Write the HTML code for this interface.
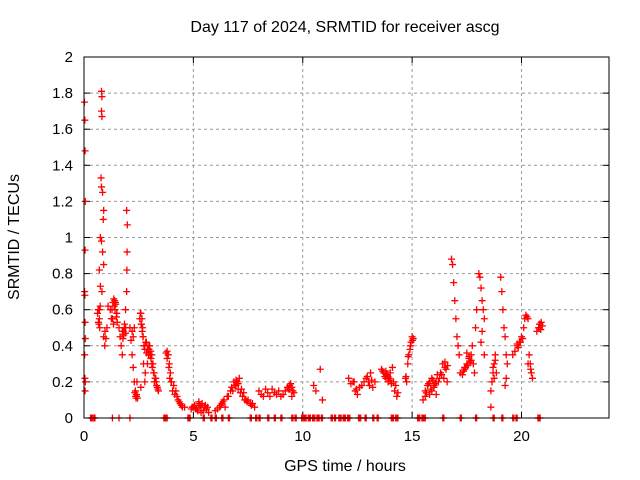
<!DOCTYPE html>
<html><head><meta charset="utf-8"><style>
body{margin:0;background:#fff}
svg{display:block;font-family:"Liberation Sans",sans-serif}
</style></head><body>
<svg id="chart" width="640" height="480">
<text x="345" y="32" text-anchor="middle" font-size="16">Day 117 of 2024, SRMTID for receiver ascg</text>
<text x="345" y="471" text-anchor="middle" font-size="16">GPS time / hours</text>
<text transform="translate(19,237) rotate(-90)" text-anchor="middle" font-size="16">SRMTID / TECUs</text>
<g id="grid"></g><g id="ticks"></g><g id="marks"></g>
<rect x="84" y="57" width="525" height="361" fill="none" stroke="#000" stroke-width="1"/>
</svg>
<script>
const xTicks=[0,5,10,15,20];
const yTicks=[0,0.2,0.4,0.6,0.8,1,1.2,1.4,1.6,1.8,2];
const yTickLabels=["0","0.2","0.4","0.6","0.8","1","1.2","1.4","1.6","1.8","2"];
const hours=[0.02,0.04,0.05,0.06,0.05,0.03,0.04,0.05,0.06,0.03,0.04,0.06,0.05,
0.8,0.82,0.8,0.82,0.78,0.8,0.85,0.9,0.88,0.75,0.8,0.85,0.9,0.7,0.75,0.82,0.65,0.7,0.68,0.72,0.9,0.95,
1.1,1.2,1.3,1.35,1.4,1.45,1.5,
1.6,1.65,1.7,1.75,1.8,1.85,1.9,1.95,1.98,1.97,1.96,1.95,1.9,
2.1,2.15,2.2,2.25,2.3,2.35,2.4,2.45,2.3,2.2,2.25,
2.6,2.65,2.62,2.7,2.75,2.72,2.8,2.78,2.6,2.85,2.9,2.95,
3.0,3.05,3.1,3.15,3.2,3.25,3.3,3.35,3.4,
3.8,3.85,3.9,3.95,4.0,4.1,4.2,4.3,4.4,4.5,
5.0,5.1,5.2,5.3,5.4,5.5,5.6,5.7,
6.0,6.2,6.3,6.4,
6.6,6.8,6.9,7.0,7.1,7.2,7.3,7.4,
7.5,7.7,7.8,
8.0,8.2,8.4,8.6,8.8,9.0,9.2,9.4,9.5,9.6,
10.5,10.6,10.8,10.9,
12.1,12.3,12.4,12.5,12.7,12.9,13.0,13.1,13.2,
13.6,13.7,13.8,13.9,14.0,14.1,14.15,14.2,14.3,
14.7,14.75,14.8,14.85,14.9,14.95,15.0,15.05,
15.5,15.6,15.7,15.8,15.9,16.0,16.1,16.2,16.3,16.4,16.5,16.45,16.6,
16.8,16.85,16.9,16.95,17.0,17.05,17.1,17.15,17.2,
17.3,17.4,17.5,17.6,17.7,17.8,17.85,17.75,17.9,17.95,
18.05,18.1,18.15,18.2,18.25,18.3,18.2,18.15,18.3,
18.6,18.65,18.7,18.75,18.8,18.85,18.6,
19.05,19.1,19.15,19.2,19.25,19.3,19.35,19.3,19.25,
19.6,19.7,19.8,19.9,20.0,20.1,20.15,20.2,20.3,
20.35,20.4,20.45,20.5,
20.7,20.8,20.85,20.9,
0.62,0.66,0.7,0.74,0.96,1.0,1.05,1.25,1.28,1.32,1.36,1.38,1.42,1.44,1.48,1.52,
1.75,1.78,1.82,1.86,1.9,2.32,2.36,2.38,2.4,2.42,
2.55,2.58,2.62,2.66,2.68,2.7,2.74,2.78,2.82,2.86,2.9,2.93,2.97,3.02,3.06,3.1,3.12,3.18,3.22,3.28,3.32,3.38,
3.75,3.8,3.88,3.92,3.98,4.05,4.15,4.25,4.35,4.45,4.6,
4.9,4.95,5.05,5.15,5.25,5.35,5.45,5.55,5.65,5.25,5.35,5.15,
6.1,6.25,6.35,6.45,6.55,6.7,6.75,6.85,6.95,7.05,7.15,7.25,6.95,7.05,7.35,7.45,7.6,7.65,
8.1,8.3,8.5,8.7,8.9,9.1,9.3,9.35,9.45,9.55,9.5,9.4,
12.2,12.35,12.45,12.6,12.8,12.95,13.05,13.15,13.3,13.65,13.75,13.85,13.95,14.05,14.25,14.35,13.8,13.9,14.0,
14.72,14.82,14.92,15.02,15.6,15.65,15.75,15.85,15.95,16.05,16.15,16.25,15.8,15.9,16.0,16.1,16.35,16.5,16.55,16.62,
17.35,17.45,17.55,17.65,17.5,17.6,17.7,17.4,18.7,18.75,18.8,19.8,19.85,19.95,20.05,20.25,20.3,20.42,20.78,20.82,20.88,20.95,
0.3,0.4,0.5,1.3,1.6,2.1,3.7,3.8,4.8,5.5,5.8,6.0,6.3,6.6,7.6,7.9,8.0,8.4,8.7,9.0,9.5,9.7,10.0,10.1,10.3,10.5,10.7,10.9,11.3,11.5,11.7,11.9,12.1,12.6,12.9,13.2,13.4,14.1,14.3,15.3,15.5,16.4,17.2,17.9,18.7,19.1,19.6,19.8,20.8,
0.35,0.45,3.65,3.75,4.85,4.75,5.45,5.85,6.05,6.35,6.65,7.65,7.85,8.05,8.45,8.75,9.05,9.55,9.65,9.95,10.05,10.15,10.25,10.35,10.45,10.55,10.65,10.75,10.85,11.35,11.45,11.65,11.75,11.85,11.95,12.05,12.15,12.55,12.65,12.85,13.25,13.45,14.05,14.15,14.25,14.35,15.25,15.35,15.45,15.55,15.6,16.45,17.25,17.95,18.75,19.15,19.65,19.75,20.75,20.85];
const tecu=[1.75,1.65,1.48,1.2,0.93,0.7,0.68,0.53,0.44,0.35,0.22,0.2,0.15,
1.81,1.78,1.7,1.67,1.33,1.28,1.25,1.15,1.1,1.0,0.98,0.92,0.85,0.82,0.73,0.7,0.6,0.55,0.52,0.5,0.45,0.4,
0.62,0.6,0.55,0.52,0.65,0.63,0.58,
0.5,0.45,0.4,0.35,0.48,0.52,0.5,1.15,1.07,0.92,0.82,0.7,0.6,
0.5,0.43,0.35,0.28,0.2,0.15,0.12,0.11,0.5,0.48,0.45,
0.58,0.55,0.52,0.45,0.4,0.3,0.25,0.2,0.17,0.42,0.38,0.35,
0.4,0.37,0.35,0.3,0.25,0.22,0.2,0.17,0.15,
0.37,0.35,0.3,0.25,0.2,0.18,0.15,0.1,0.08,0.06,
0.06,0.05,0.04,0.07,0.08,0.06,0.05,0.03,
0.04,0.06,0.08,0.1,
0.12,0.15,0.18,0.2,0.22,0.16,0.14,0.1,
0.1,0.08,0.06,
0.15,0.12,0.14,0.16,0.13,0.12,0.15,0.18,0.17,0.14,
0.18,0.15,0.27,0.1,
0.22,0.2,0.15,0.13,0.18,0.22,0.2,0.25,0.17,
0.27,0.25,0.22,0.2,0.25,0.28,0.2,0.15,0.12,
0.22,0.2,0.3,0.35,0.38,0.42,0.45,0.44,
0.1,0.15,0.18,0.2,0.22,0.17,0.13,0.2,0.25,0.3,0.28,0.22,0.2,
0.88,0.85,0.75,0.65,0.55,0.45,0.4,0.35,0.25,
0.24,0.27,0.3,0.33,0.35,0.3,0.25,0.4,0.5,0.6,
0.8,0.78,0.72,0.65,0.6,0.55,0.48,0.42,0.35,
0.15,0.2,0.25,0.3,0.35,0.25,0.06,
0.78,0.7,0.6,0.5,0.45,0.35,0.3,0.22,0.18,
0.35,0.37,0.4,0.42,0.45,0.5,0.55,0.57,0.55,
0.35,0.3,0.25,0.22,
0.48,0.5,0.52,0.53,
0.58,0.53,0.6,0.62,0.48,0.44,0.5,0.55,0.6,0.64,0.66,0.62,0.6,0.64,0.56,0.53,
0.48,0.44,0.46,0.5,0.47,0.14,0.12,0.11,0.13,0.2,
0.55,0.58,0.52,0.48,0.5,0.45,0.4,0.38,0.42,0.36,0.3,0.4,0.38,0.35,0.33,0.3,0.28,0.25,0.2,0.22,0.18,0.16,
0.36,0.33,0.28,0.22,0.2,0.15,0.13,0.12,0.09,0.07,0.06,
0.05,0.06,0.07,0.05,0.08,0.06,0.04,0.07,0.06,0.09,0.03,0.05,
0.05,0.07,0.09,0.06,0.12,0.15,0.17,0.2,0.18,0.16,0.14,0.12,0.21,0.19,0.1,0.09,0.08,0.07,
0.13,0.16,0.12,0.14,0.15,0.13,0.17,0.16,0.19,0.15,0.12,0.16,
0.19,0.2,0.16,0.17,0.2,0.23,0.18,0.21,0.2,0.26,0.23,0.24,0.22,0.19,0.18,0.14,0.26,0.23,0.21,
0.23,0.34,0.4,0.43,0.12,0.14,0.19,0.16,0.21,0.19,0.24,0.22,0.13,0.15,0.18,0.2,0.24,0.31,0.27,0.29,
0.26,0.28,0.29,0.31,0.36,0.34,0.32,0.28,0.28,0.22,0.32,0.41,0.39,0.42,0.44,0.56,0.3,0.27,0.5,0.52,0.49,0.51,
0,0,0,0,0,0,0,0,0,0,0,0,0,0,0,0,0,0,0,0,0,0,0,0,0,0,0,0,0,0,0,0,0,0,0,0,0,0,0,0,0,0,0,0,0,0,0,0,0,
0,0,0,0,0,0,0,0,0,0,0,0,0,0,0,0,0,0,0,0,0,0,0,0,0,0,0,0,0,0,0,0,0,0,0,0,0,0,0,0,0,0,0,0,0,0,0,0,0,0,0,0,0,0,0,0,0,0,0,0];
const NS="http://www.w3.org/2000/svg";
const X0=84,X1=609,Y0=418,Y1=57,XMAX=24,YMAX=2;
function sx(v){return X0+v/XMAX*(X1-X0);}
function sy(v){return Y0-v/YMAX*(Y0-Y1);}
function mk(tag,attrs,parent){const e=document.createElementNS(NS,tag);for(const k in attrs)e.setAttribute(k,attrs[k]);parent.appendChild(e);return e;}
const grid=document.getElementById('grid'),ticks=document.getElementById('ticks'),marks=document.getElementById('marks');
xTicks.forEach(t=>{
  const x=sx(t);
  if(t>0){const g=mk('line',{x1:x,x2:x,y1:Y1,y2:Y0,stroke:'#999','stroke-dasharray':'3,3'},grid);
  
  }
  mk('line',{x1:x,x2:x,y1:Y0,y2:Y0-6,stroke:'#000'},ticks);
  mk('line',{x1:x,x2:x,y1:Y1,y2:Y1+6,stroke:'#000'},ticks);
  const l=mk('text',{x:x,y:441,'text-anchor':'middle','font-size':15},ticks);
  l.textContent=t;
  
  
});
yTicks.forEach((t,i)=>{
  const y=sy(t);
  if(t>0&&t<2){const g=mk('line',{x1:X0,x2:X1,y1:y,y2:y,stroke:'#999','stroke-dasharray':'3,3'},grid);
  
  }
  mk('line',{x1:X0,x2:X0+6,y1:y,y2:y,stroke:'#000'},ticks);
  mk('line',{x1:X1,x2:X1-6,y1:y,y2:y,stroke:'#000'},ticks);
  const l=mk('text',{x:73,y:y+5,'text-anchor':'end','font-size':15},ticks);
  l.textContent=yTickLabels[i];
  
  
});
hours.forEach((h,i)=>{
  const x=sx(h),y=sy(tecu[i]);
  const p=mk('path',{d:`M${x-3.5},${y}H${x+3.5}M${x},${y-3.5}V${y+3.5}`,stroke:'#f00','stroke-width':1.3,fill:'none'},marks);
  
  
});
</script>
</body></html>
